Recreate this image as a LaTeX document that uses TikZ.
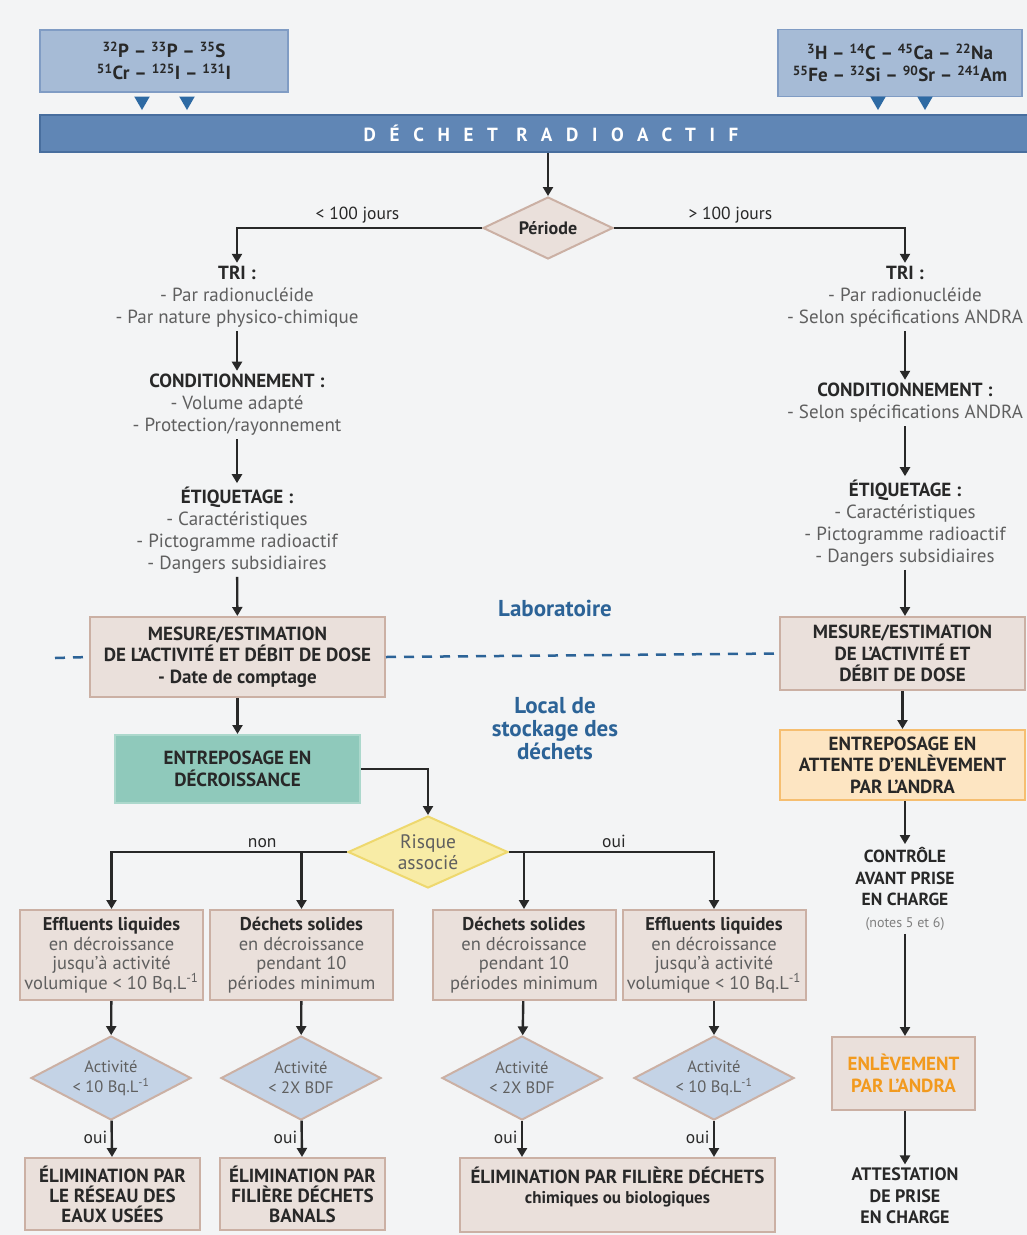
\documentclass[tikz,border=0pt]{standalone}
\usepackage{fontspec}
\setmainfont{PT Sans}
\usetikzlibrary{arrows.meta,shapes.geometric}

\definecolor{bgcol}{RGB}{243,244,245}
\definecolor{isofill}{RGB}{166,187,214}
\definecolor{isodraw}{RGB}{128,156,196}
\definecolor{barfill}{RGB}{96,134,181}
\definecolor{bardraw}{RGB}{72,110,158}
\definecolor{markblue}{RGB}{46,106,163}
\definecolor{beigefill}{RGB}{234,224,219}
\definecolor{beigedraw}{RGB}{203,176,164}
\definecolor{tealfill}{RGB}{143,201,187}
\definecolor{tealdraw}{RGB}{172,216,204}
\definecolor{orangefill}{RGB}{253,229,194}
\definecolor{orangedraw}{RGB}{246,190,112}
\definecolor{orangetext}{RGB}{242,154,30}
\definecolor{yellowfill}{RGB}{248,236,166}
\definecolor{yellowdraw}{RGB}{238,216,110}
\definecolor{bluefill}{RGB}{196,211,230}
\definecolor{zonetext}{RGB}{44,99,151}
\definecolor{bodytext}{RGB}{95,95,95}
\definecolor{headtext}{RGB}{40,40,40}

\newcommand{\stephead}[1]{{\bfseries\color{headtext}#1}}

\begin{document}
\begin{tikzpicture}[x=1pt, y=-1pt,
    >={Triangle[length=9pt, width=10pt]},
    flow/.style = {->, line width=2.4pt, draw=headtext},
    box/.style = {rectangle, draw=beigedraw, fill=beigefill, line width=2pt, align=center,
                  font=\bfseries\fontsize{19}{21.5}\selectfont, text=headtext, inner sep=2pt},
    wastebox/.style = {box, font=\fontsize{18.5}{19.5}\selectfont, text=bodytext,
                       minimum width=183pt, minimum height=90pt},
    isobox/.style = {rectangle, draw=isodraw, fill=isofill, line width=1.5pt, align=center,
                     font=\bfseries\fontsize{19}{22}\selectfont, text=headtext},
    marker/.style = {regular polygon, regular polygon sides=3, shape border rotate=180,
                     fill=markblue, inner sep=0pt, minimum size=18pt},
    steps/.style = {align=center, font=\fontsize{19}{22}\selectfont, text=bodytext},
    choice/.style = {diamond, draw=beigedraw, fill=bluefill, line width=2pt, align=center,
                     inner sep=0pt, aspect=2, font=\fontsize{16.5}{20}\selectfont, text=bodytext},
    zone/.style = {align=center, font=\bfseries\fontsize{23}{23}\selectfont, text=zonetext},
    branch/.style = {font=\fontsize{17.5}{18}\selectfont, text=headtext}]

  \useasboundingbox (0, 0) rectangle (1027, 1235);
  \fill [bgcol] (0, 0) rectangle (1027, 1235);

  % Radionuclides.
  \node at (164, 61) [isobox, minimum width=248pt, minimum height=62pt, name=IsoShort]
        {\textsuperscript{32}P -- \textsuperscript{33}P -- \textsuperscript{35}S\\
         \textsuperscript{51}Cr -- \textsuperscript{125}I -- \textsuperscript{131}I};
  \node at (900, 63) [isobox, minimum width=244pt, minimum height=67pt, name=IsoLong]
        {\textsuperscript{3}H -- \textsuperscript{14}C -- \textsuperscript{45}Ca -- \textsuperscript{22}Na\\
         \textsuperscript{55}Fe -- \textsuperscript{32}Si -- \textsuperscript{90}Sr -- \textsuperscript{241}Am};
  \node at (142, 101) [marker, name=MarkA] {};
  \node at (187, 101) [marker, name=MarkB] {};
  \node at (878, 101) [marker, name=MarkC] {};
  \node at (925, 101) [marker, name=MarkD] {};

  % Header.
  \node at (551, 133.5) [rectangle, draw=bardraw, fill=barfill, line width=1.5pt,
        minimum width=1022pt, minimum height=37pt, text=white,
        font=\bfseries\fontsize{19}{20}\selectfont, name=Header]
        {\addfontfeatures{LetterSpace=72}DÉCHET RADIOACTIF};

  \node at (548, 228) [choice, fill=beigefill, minimum width=130pt, minimum height=62pt,
        font=\bfseries\fontsize{18}{18}\selectfont, text=headtext, name=Periode] {Période};

  % Short half-lives.
  \node at (237, 297) [steps, name=TriShort]
        {\stephead{TRI :}\\- Par radionucléide\\- Par nature physico-chimique};
  \node at (237, 405) [steps, name=CondShort]
        {\stephead{CONDITIONNEMENT :}\\- Volume adapté\\- Protection/rayonnement};
  \node at (237, 530) [steps, name=EtiqShort]
        {\stephead{ÉTIQUETAGE :}\\- Caractéristiques\\- Pictogramme radioactif\\- Dangers subsidiaires};
  \node at (237.5, 657) [box, minimum width=295pt, minimum height=80pt, name=MesureShort]
        {MESURE/ESTIMATION\\DE L'ACTIVITÉ ET DÉBIT DE DOSE\\- Date de comptage};
  \node at (237.5, 769) [box, draw=tealdraw, fill=tealfill, minimum width=245pt,
        minimum height=68pt, name=Decroissance] {ENTREPOSAGE EN\\DÉCROISSANCE};
  \node at (428, 852) [choice, draw=yellowdraw, fill=yellowfill, minimum width=160pt,
        minimum height=72pt, inner sep=-4pt, aspect=2.2,
        font=\fontsize{19.5}{21}\selectfont, name=Risque] {Risque\\associé};

  \node at (111.5, 955) [wastebox, name=EffluentsA]
        {\stephead{Effluents liquides}\\en décroissance\\jusqu'à activité\\volumique < 10 Bq.L\textsuperscript{-1}};
  \node at (301.5, 955) [wastebox, name=SolidesA]
        {\stephead{Déchets solides}\\en décroissance\\pendant 10\\périodes minimum};
  \node at (524, 955) [wastebox, name=SolidesB]
        {\stephead{Déchets solides}\\en décroissance\\pendant 10\\périodes minimum};
  \node at (714, 955) [wastebox, name=EffluentsB]
        {\stephead{Effluents liquides}\\en décroissance\\jusqu'à activité\\volumique < 10 Bq.L\textsuperscript{-1}};

  \node at (111, 1078) [choice, minimum width=160pt, minimum height=84pt, name=ActA]
        {Activité\\< 10 Bq.L\textsuperscript{-1}};
  \node at (301, 1078) [choice, minimum width=160pt, minimum height=84pt, name=ActB]
        {Activité\\< 2X BDF};
  \node at (522, 1078) [choice, minimum width=160pt, minimum height=84pt, name=ActC]
        {Activité\\< 2X BDF};
  \node at (714, 1078) [choice, minimum width=160pt, minimum height=84pt, name=ActD]
        {Activité\\< 10 Bq.L\textsuperscript{-1}};

  \node at (112.5, 1194) [box, minimum width=175pt, minimum height=72pt,
        font=\bfseries\fontsize{19}{20}\selectfont, name=ElimEaux]
        {ÉLIMINATION PAR\\LE RÉSEAU DES\\EAUX USÉES};
  \node at (302.5, 1194) [box, minimum width=165pt, minimum height=72pt,
        font=\bfseries\fontsize{19}{20}\selectfont, name=ElimBanals]
        {ÉLIMINATION PAR\\FILIÈRE DÉCHETS\\BANALS};
  \node at (617.5, 1195) [box, minimum width=315pt, minimum height=74pt,
        font=\bfseries\fontsize{19}{20}\selectfont, name=ElimChimiques]
        {ÉLIMINATION PAR FILIÈRE DÉCHETS\\{\fontsize{17}{20}\selectfont chimiques ou biologiques}\\~};

  % Long half-lives.
  \node at (905, 297) [steps, name=TriLong]
        {\stephead{TRI :}\\- Par radionucléide\\- Selon spécifications ANDRA};
  \node at (905, 403) [steps, name=CondLong]
        {\stephead{CONDITIONNEMENT :}\\- Selon spécifications ANDRA};
  \node at (905, 523) [steps, name=EtiqLong]
        {\stephead{ÉTIQUETAGE :}\\- Caractéristiques\\- Pictogramme radioactif\\- Dangers subsidiaires};
  \node at (902.5, 653.5) [box, minimum width=245pt, minimum height=73pt, name=MesureLong]
        {MESURE/ESTIMATION\\DE L'ACTIVITÉ ET\\DÉBIT DE DOSE};
  \node at (902.5, 765) [box, draw=orangedraw, fill=orangefill, minimum width=245pt,
        minimum height=70pt, name=Attente] {ENTREPOSAGE EN\\ATTENTE D'ENLÈVEMENT\\PAR L'ANDRA};
  \node at (905, 889) [steps, font=\bfseries\fontsize{17.5}{21.5}\selectfont, text=headtext, name=Controle]
        {CONTRÔLE\\AVANT PRISE\\EN CHARGE\\{\mdseries\fontsize{14}{21.5}\selectfont\color{bodytext!80}(notes 5 et 6)}};
  \node at (903.5, 1073.5) [box, text=orangetext, minimum width=143pt, minimum height=73pt,
        name=Enlevement] {ENLÈVEMENT\\PAR L'ANDRA};
  \node at (905, 1196) [steps, font=\bfseries\fontsize{18}{21.5}\selectfont, text=headtext, name=Attestation]
        {ATTESTATION\\DE PRISE\\EN CHARGE};

  % Zones.
  \node at (555, 608) [zone, name=Laboratoire] {Laboratoire};
  \node at (555, 729) [zone, name=Stockage] {Local de\\stockage des\\déchets};
  \coordinate (dashstart) at (55, 658);
  \draw [zonetext, line width=2.5pt, dash pattern=on 10pt off 8pt] (dashstart)
        to (MesureShort.west);
  \draw [zonetext, line width=2.5pt, dash pattern=on 10pt off 8pt] (MesureShort.east)
        to (MesureLong.west);

  % Period.
  \draw [flow] (Header.south -| Periode.north)
               to (Periode.north);
  \draw [flow] (Periode.west)
               -| node [branch, above, pos=0.254] {< 100 jours}
               (TriShort.north);
  \draw [flow] (Periode.east)
               -| node [branch, above, pos=0.2] {> 100 jours}
               (TriLong.north);

  % Short half-lives chain.
  \draw [flow] (TriShort) to (CondShort);
  \draw [flow] (CondShort) to (EtiqShort);
  \draw [flow] (EtiqShort) to (MesureShort);
  \draw [flow] (MesureShort) to (Decroissance);
  \draw [flow] (Decroissance.east)
               -| (Risque.north);
  \draw [flow] (Risque.west)
               -| node [branch, above, pos=0.18] {non}
               (EffluentsA.north);
  \draw [flow] (Risque.west)
               -| (SolidesA.north);
  \draw [flow] (Risque.east)
               -| node [branch, above, pos=0.256] {oui}
               (EffluentsB.north);
  \draw [flow] (Risque.east)
               -| (SolidesB.north);
  \draw [flow] (EffluentsA) to (ActA);
  \draw [flow] (SolidesA) to (ActB);
  \draw [flow] (SolidesB) to (ActC);
  \draw [flow] (EffluentsB) to (ActD);
  \draw [flow] (ActA)
               to node [branch, left, pos=0.45] {oui}
               (ElimEaux);
  \draw [flow] (ActB)
               to node [branch, left, pos=0.45] {oui}
               (ElimBanals);
  \draw [flow] (ActC)
               to node [branch, left, pos=0.45] {oui}
               (ActC |- ElimChimiques.north);
  \draw [flow] (ActD)
               to node [branch, left, pos=0.45] {oui}
               (ActD |- ElimChimiques.north);

  % Long half-lives chain.
  \draw [flow] (TriLong) to (CondLong);
  \draw [flow] (CondLong) to (EtiqLong);
  \draw [flow] (EtiqLong) to (EtiqLong |- MesureLong.north);
  \draw [flow] (MesureLong.south -| Attente) to (Attente);
  \draw [flow] (Attente.south -| Controle) to (Controle);
  \draw [flow] (Controle) to (Controle |- Enlevement.north);
  \draw [flow] (Enlevement.south -| Attestation) to (Attestation);
\end{tikzpicture}
\end{document}
